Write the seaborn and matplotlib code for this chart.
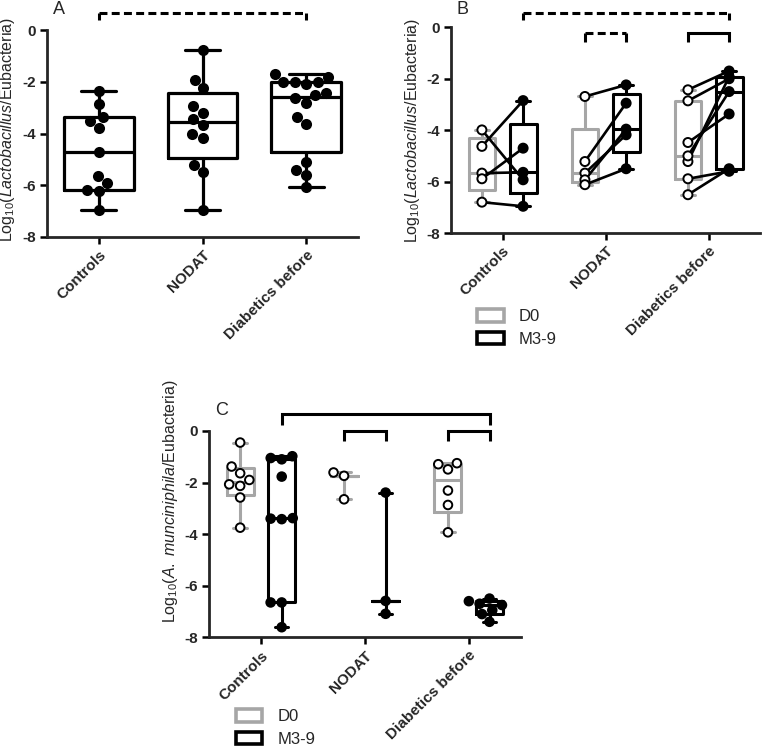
import matplotlib
matplotlib.use("Agg")
import matplotlib as mpl
import matplotlib.cbook as cbook
import matplotlib.pyplot as plt
import numpy as np
import pandas as pd
import seaborn as sns
from matplotlib.patches import Patch

# ---------------- data ----------------
groups = ["Controls", "NODAT", "Diabetics before"]
times = ["D0", "M3-9"]
ytick_values = [0, -2, -4, -6, -8]
ytick_labels = ["0", "-2", "-4", "-6", "-8"]

# Panel A
a_controls = [-2.35, -2.86, -3.38, -3.51, -3.78, -4.71, -5.65, -5.91, -6.17, -6.22, -6.94]
a_nodat = [-0.77, -1.94, -2.26, -2.94, -3.19, -3.45, -3.68, -4.00, -4.17, -5.20, -5.48, -6.97]
a_diab = [-1.83, -2.00, -2.09, -2.00, -2.00, -1.70, -2.45, -2.64, -2.81, -2.51,
          -3.37, -3.63, -5.09, -5.41, -5.60, -6.06]

# Panel B (paired: i-th D0 value belongs with i-th M3-9 value)
b_ctrl_d0 = [-3.99, -4.63, -5.67, -5.89, -6.80]
b_ctrl_m = [-5.93, -2.85, -5.64, -4.70, -6.96]
b_nodat_d0 = [-2.69, -5.22, -5.67, -5.93, -6.12]
b_nodat_m = [-2.24, -2.95, -4.18, -3.96, -5.50]
b_diab_d0 = [-2.43, -2.86, -4.48, -5.22, -5.00, -5.89, -6.51]
b_diab_m = [-1.70, -2.00, -3.37, -1.92, -2.50, -5.60, -5.50]

# Panel C
c_ctrl_d0 = [-0.45, -1.38, -1.64, -1.90, -2.07, -2.13, -2.58, -3.75]
c_ctrl_m = [-0.98, -1.05, -1.10, -1.77, -3.38, -3.40, -3.42, -6.65, -6.65, -7.61]
c_nodat_d0 = [-1.61, -1.74, -2.65]
c_nodat_m = [-2.39, -6.59, -7.09]
c_diab_d0 = [-1.25, -1.29, -1.49, -2.31, -2.87, -3.93]
c_diab_m = [-6.50, -6.60, -6.70, -6.75, -6.95, -7.10, -7.40]

GRAY = "#a6a6a6"

# ---- GraphPad-style quartiles (n+1 method); no box for n < 4 ----
_orig_stats = cbook.boxplot_stats


def gp_boxplot_stats(X, *args, **kwargs):
    stats = _orig_stats(X, *args, **kwargs)
    arrays = cbook._reshape_2D(X, "X")
    for st, arr in zip(stats, arrays):
        arr = np.asarray(arr, dtype=float)
        if len(arr) == 0:
            continue
        if len(arr) < 4:
            m = float(np.median(arr))
            st["q1"] = st["med"] = st["q3"] = m
        else:
            q1, med, q3 = np.percentile(arr, [25, 50, 75], method="weibull")
            st["q1"], st["med"], st["q3"] = q1, med, q3
    return stats


mpl.cbook.boxplot_stats = gp_boxplot_stats

# ---------------- style ----------------
sns.set_style("ticks")
plt.rcParams["font.family"] = ["Liberation Sans", "DejaVu Sans"]
plt.rcParams["mathtext.fontset"] = "custom"
plt.rcParams["mathtext.rm"] = "Liberation Sans"
plt.rcParams["mathtext.it"] = "Liberation Sans:italic"
plt.rcParams["axes.unicode_minus"] = False

fig = plt.figure(figsize=(7.63, 7.5), dpi=100)
axA = fig.add_axes([0.0616, 0.684, 0.4076, 0.276])
axB = fig.add_axes([0.5911, 0.6893, 0.405, 0.2743])
axC = fig.add_axes([0.2739, 0.1503, 0.4085, 0.2751])


def style(ax, ylabel, label_xy):
    ax.set_ylim(-8, 0)
    ax.set_xlim(-0.5, 2.5)
    ax.set_yticks(ytick_values)
    ax.set_yticklabels(ytick_labels, fontweight="bold")
    ax.set_xticks(range(len(groups)))
    ax.set_xticklabels(groups, rotation=45, ha="right", rotation_mode="anchor",
                       fontweight="bold")
    ax.set_xlabel("")
    ax.set_ylabel(ylabel, fontsize=11.5)
    ax.yaxis.set_label_coords(*label_xy)
    for s in ["top", "right"]:
        ax.spines[s].set_visible(False)
    for s in ["left", "bottom"]:
        ax.spines[s].set_linewidth(2.0)
    ax.tick_params(width=1.8, length=5, labelsize=11, pad=3, color="black")
    if ax.get_legend() is not None:
        ax.get_legend().remove()


def bracket(ax, x0, x1, ytop, ybot, dashed):
    kw = dict(color="black", lw=2.2, clip_on=False, solid_capstyle="butt")
    if dashed:
        ax.plot([x0, x1], [ytop, ytop], ls=(0, (2.6, 1.4)), **kw)
        ax.plot([x0, x0], [ybot, ytop], **kw)
        ax.plot([x1, x1], [ybot, ytop], **kw)
    else:
        ax.plot([x0, x0, x1, x1], [ybot, ytop, ytop, ybot], solid_joinstyle="miter", **kw)


# ---------------- Panel A ----------------
dfA = pd.DataFrame({
    "group": np.repeat(groups, [len(a_controls), len(a_nodat), len(a_diab)]),
    "value": a_controls + a_nodat + a_diab,
})
sns.boxplot(data=dfA, x="group", y="value", order=groups, whis=(0, 100), width=0.67,
            fill=False, color="black", linewidth=2.3, showfliers=False, ax=axA)
sns.swarmplot(data=dfA, x="group", y="value", order=groups, color="black", size=8,
              ax=axA)
style(axA, r"Log$_{10}$($\mathit{Lactobacillus}$/Eubacteria)", (-0.095, 0.517))
bracket(axA, 0, 2, 0.67, 0.37, True)

# ---------------- Panel B ----------------
b_d0 = [b_ctrl_d0, b_nodat_d0, b_diab_d0]
b_m = [b_ctrl_m, b_nodat_m, b_diab_m]
rows = []
for g, d0, m in zip(groups, b_d0, b_m):
    rows += [(g, "D0", v) for v in d0]
    rows += [(g, "M3-9", v) for v in m]
dfB = pd.DataFrame(rows, columns=["group", "time", "value"])
pal = {"D0": GRAY, "M3-9": "black"}
pt_pal = {"D0": "white", "M3-9": "black"}
sns.boxplot(data=dfB, x="group", y="value", hue="time", order=groups, hue_order=times,
            palette=pal, whis=(0, 100), width=0.8, gap=0.35, fill=False, linewidth=2.2,
            showfliers=False, saturation=1, legend=False, ax=axB)
dodge = 0.2
for i, (d0, m) in enumerate(zip(b_d0, b_m)):
    for v0, v1 in zip(d0, m):
        axB.plot([i - dodge, i + dodge], [v0, v1], color="black", lw=1.9, zorder=2.5)
sns.stripplot(data=dfB, x="group", y="value", hue="time", order=groups,
              hue_order=times, palette=pt_pal, dodge=True, jitter=False,
              edgecolor="black", linewidth=1.4, size=6.5, legend=False, ax=axB, zorder=4)
style(axB, r"Log$_{10}$($\mathit{Lactobacillus}$/Eubacteria)", (-0.094, 0.496))
bracket(axB, 0 + dodge, 2 + dodge, 0.57, 0.28, True)
bracket(axB, 1 - dodge, 1 + dodge, -0.21, -0.57, True)
bracket(axB, 2 - dodge, 2 + dodge, -0.21, -0.57, False)

# ---------------- Panel C ----------------
c_d0 = [c_ctrl_d0, c_nodat_d0, c_diab_d0]
c_m = [c_ctrl_m, c_nodat_m, c_diab_m]
rows = []
for g, d0, m in zip(groups, c_d0, c_m):
    rows += [(g, "D0", v) for v in d0]
    rows += [(g, "M3-9", v) for v in m]
dfC = pd.DataFrame(rows, columns=["group", "time", "value"])
sns.boxplot(data=dfC, x="group", y="value", hue="time", order=groups, hue_order=times,
            palette=pal, whis=(0, 100), width=0.8, gap=0.35, fill=False, linewidth=2.2,
            showfliers=False, saturation=1, legend=False, ax=axC)
sns.swarmplot(data=dfC, x="group", y="value", hue="time", order=groups,
              hue_order=times, palette=pt_pal, dodge=True, edgecolor="black",
              linewidth=1.4, size=6.2, legend=False, ax=axC, zorder=4)
style(axC, r"Log$_{10}$($\mathit{A.\ munciniphila}$/Eubacteria)", (-0.093, 0.661))
bracket(axC, 0 + dodge, 2 + dodge, 0.65, 0.23, False)
bracket(axC, 1 - dodge, 1 + dodge, 0.0, -0.38, False)
bracket(axC, 2 - dodge, 2 + dodge, 0.0, -0.38, False)


# ---------------- legends & panel letters ----------------
def legend_handles():
    return [Patch(facecolor="white", edgecolor=GRAY, linewidth=2.6, label="D0"),
            Patch(facecolor="white", edgecolor="black", linewidth=2.6, label="M3-9")]


fig.legend(handles=legend_handles(), loc="upper left", bbox_to_anchor=(0.625, 0.588),
           frameon=False, fontsize=12, handlelength=1.6, handleheight=0.8,
           labelspacing=0.45, handletextpad=0.9, borderaxespad=0, borderpad=0)
fig.legend(handles=legend_handles(), loc="upper left", bbox_to_anchor=(0.309, 0.0547),
           frameon=False, fontsize=12, handlelength=1.6, handleheight=0.8,
           labelspacing=0.45, handletextpad=0.9, borderaxespad=0, borderpad=0)

fig.text(53 / 763, 1 - 14 / 750, "A", fontsize=13, va="baseline")
fig.text(457 / 763, 1 - 13.5 / 750, "B", fontsize=13, va="baseline")
fig.text(215 / 763, 1 - 415 / 750, "C", fontsize=13, va="baseline")

fig.savefig("out.png", dpi=100)
